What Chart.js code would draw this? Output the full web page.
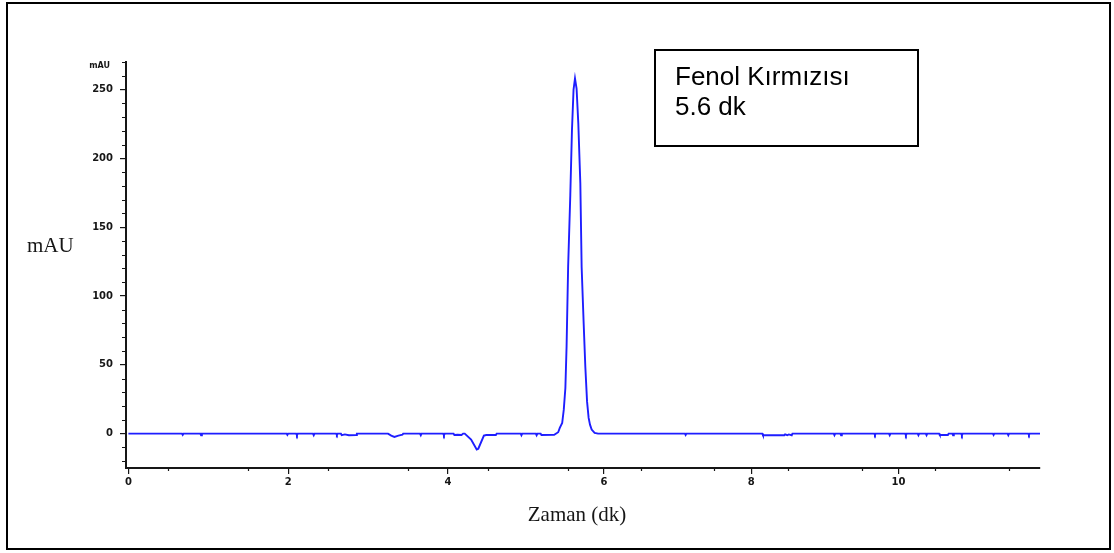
<!DOCTYPE html>
<html lang="tr">
<head>
<meta charset="utf-8">
<title>Fenol Kırmızısı – kromatogram</title>
<script src="https://cdn.jsdelivr.net/npm/chart.js@4.4.1/dist/chart.umd.min.js"></script>
<style>
  html, body { margin: 0; padding: 0; background: #ffffff; }
  canvas { display: block; }
</style>
</head>
<body>
<canvas id="chromatogram" width="1114" height="553"></canvas>
<script>
// Retention time (min) of each recorded point
const TIME_MIN = [
  0,
  0.67, 0.68, 0.69,
  0.90, 0.91, 0.92,
  1.98, 1.99, 2.00,
  2.10, 2.11, 2.12,
  2.31, 2.32, 2.33,
  2.60, 2.61, 2.62,
  2.66, 2.67, 2.71, 2.76, 2.85, 2.86,
  3.25, 3.29, 3.33, 3.38, 3.43, 3.44,
  3.65, 3.66, 3.67,
  3.94, 3.95, 3.96,
  4.07, 4.08, 4.12, 4.17, 4.19,
  4.21, 4.29, 4.36, 4.38, 4.45, 4.48, 4.60, 4.61,
  4.91, 4.92, 4.93,
  5.10, 5.11, 5.12,
  5.16, 5.17, 5.33,
  5.38, 5.40, 5.43, 5.45, 5.47, 5.485, 5.505, 5.535, 5.558, 5.58, 5.60,
  5.622, 5.646, 5.674, 5.692, 5.72, 5.743, 5.767, 5.789, 5.808, 5.831, 5.872, 5.92,
  7.10, 7.11, 7.12,
  8.15, 8.16, 8.45, 8.46, 8.49, 8.51, 8.55, 8.56,
  9.12, 9.13, 9.14,
  9.21, 9.22, 9.23,
  9.67, 9.68, 9.69,
  9.87, 9.88, 9.89,
  10.09, 10.10, 10.11,
  10.26, 10.27, 10.28,
  10.37, 10.38, 10.39,
  10.55, 10.56, 10.67, 10.68,
  10.73, 10.74, 10.75,
  10.85, 10.86, 10.87,
  11.28, 11.29, 11.30,
  11.48, 11.49, 11.50,
  11.76, 11.77, 11.78,
  11.92
];

// Detector signal (mAU) at each time above
const SIGNAL_MAU = [
  0,
  0, -1, 0,
  0, -1.2, 0,
  0, -1, 0,
  0, -1.2, 0,
  0, -1.2, 0,
  0, -1, 0,
  0, -1.2, -0.6, -1.2, -1, 0,
  0, -1.5, -2.4, -1.5, -0.8, 0,
  0, -1.2, 0,
  0, -1.2, 0,
  0, -1, -0.8, -1, 0,
  0, -4.4, -11.6, -11, -1.5, -1, -1, 0,
  0, -1.2, 0,
  0, -1.2, 0,
  0, -1, -0.8,
  1.0, 4.1, 7.7, 17.4, 33.1, 63.3, 121.3, 173.3, 220.4, 250, 258,
  250.7, 225.3, 181.8, 121.3, 80.3, 48.8, 23.4, 11.4, 6.5, 2.9, 0.5, 0,
  0, -1, 0,
  0, -1.2, -1.2, -0.6, -1.2, -0.6, -1.2, 0,
  0, -1.2, 0,
  0, -1.2, 0,
  0, -1, 0,
  0, -1.2, 0,
  0, -1.2, 0,
  0, -1.2, 0,
  0, -1.2, 0,
  0, -1, -1, 0,
  0, -1.2, 0,
  0, -1.2, 0,
  0, -1, 0,
  0, -1.2, 0,
  0, -1, 0,
  0
];

// Labelled tick values
const X_MAJOR_TICKS = [0, 2, 4, 6, 8, 10];
const Y_MAJOR_TICKS = [0, 50, 100, 150, 200, 250];

// Texts
const X_TITLE = 'Zaman (dk)';
const Y_TITLE = 'mAU';
const Y_UNIT = 'mAU';
const PEAK_NAME = 'Fenol Kırmızısı';
const PEAK_TIME = '5.6 dk';

// Piecewise-linear time axis: each time segment gets its own width weight
// (px per minute), so the segment before 5.5 min is a bit wider than the rest.
const SEGMENT_WEIGHTS = [
  { from: -Infinity, to: 5.5, w: 79.7 },
  { from: 5.5, to: 6.0, w: 72.0 },
  { from: 6.0, to: Infinity, w: 73.5 }
];
function warp(t) {
  let acc = 0;
  if (t <= 5.5) return t * SEGMENT_WEIGHTS[0].w;
  acc = 5.5 * SEGMENT_WEIGHTS[0].w;
  if (t <= 6.0) return acc + (t - 5.5) * SEGMENT_WEIGHTS[1].w;
  acc += 0.5 * SEGMENT_WEIGHTS[1].w;
  return acc + (t - 6.0) * SEGMENT_WEIGHTS[2].w;
}
function unwarp(u) {
  const a = 5.5 * SEGMENT_WEIGHTS[0].w;
  const b = a + 0.5 * SEGMENT_WEIGHTS[1].w;
  if (u <= a) return u / SEGMENT_WEIGHTS[0].w;
  if (u <= b) return 5.5 + (u - a) / SEGMENT_WEIGHTS[1].w;
  return 6.0 + (u - b) / SEGMENT_WEIGHTS[2].w;
}

class SegmentedLinearScale extends Chart.LinearScale {
  getPixelForValue(value) {
    if (value === null || value === undefined || isNaN(value)) return NaN;
    const a = warp(this.min), b = warp(this.max);
    return this.getPixelForDecimal((warp(value) - a) / (b - a));
  }
  getValueForPixel(pixel) {
    const a = warp(this.min), b = warp(this.max);
    return unwarp(a + this.getDecimalForPixel(pixel) * (b - a));
  }
}
SegmentedLinearScale.id = 'segmentedLinear';
Chart.register(SegmentedLinearScale);

const INK = '#161616';
const TICK_FONT = { family: 'DejaVu Sans', size: 10, weight: 'bold' };

// Minor ticks, axis titles, unit label, peak note and outer frame
const printoutDecor = {
  id: 'printoutDecor',
  afterDraw(chart) {
    const { ctx, chartArea } = chart;
    const xs = chart.scales.x, ys = chart.scales.y;
    ctx.save();

    // minor ticks
    ctx.strokeStyle = INK;
    ctx.lineWidth = 1.2;
    ctx.beginPath();
    for (let v = -20; v <= 270; v += 10) {
      if (v % 50 === 0) continue;
      const py = Math.round(ys.getPixelForValue(v)) + 0.5;
      ctx.moveTo(chartArea.left - 4, py);
      ctx.lineTo(chartArea.left, py);
    }
    for (let t = 0.5; t < 12; t += 1) {
      const px = Math.round(xs.getPixelForValue(t)) + 0.5;
      ctx.moveTo(px, chartArea.bottom);
      ctx.lineTo(px, chartArea.bottom + 3);
    }
    ctx.stroke();

    // unit at the top of the signal axis
    ctx.fillStyle = INK;
    ctx.font = 'bold 8px "DejaVu Sans"';
    ctx.textAlign = 'right';
    ctx.textBaseline = 'middle';
    ctx.fillText(Y_UNIT, 110, 66);

    // axis titles
    ctx.font = '21px "Liberation Serif"';
    ctx.textBaseline = 'alphabetic';
    ctx.textAlign = 'left';
    ctx.fillText(Y_TITLE, 27, 252);
    ctx.textAlign = 'center';
    ctx.fillText(X_TITLE, 577, 521);

    // peak note
    ctx.strokeStyle = '#000';
    ctx.lineWidth = 2;
    ctx.strokeRect(655, 50, 263, 96);
    ctx.fillStyle = '#000';
    ctx.font = '26px "Liberation Sans"';
    ctx.textAlign = 'left';
    ctx.fillText(PEAK_NAME, 675, 85);
    ctx.fillText(PEAK_TIME, 675, 115);

    // outer frame
    ctx.lineWidth = 2;
    ctx.strokeRect(7, 3, 1103, 546);
    ctx.restore();
  }
};

new Chart(document.getElementById('chromatogram'), {
  type: 'line',
  data: {
    datasets: [{
      data: TIME_MIN.map((t, i) => ({ x: t, y: SIGNAL_MAU[i] })),
      borderColor: '#1e1eff',
      borderWidth: 1.9,
      pointRadius: 0,
      tension: 0,
      fill: false
    }]
  },
  options: {
    responsive: false,
    devicePixelRatio: 1,
    animation: false,
    events: [],
    layout: { padding: { top: 62, right: 74, bottom: 0, left: 0 } },
    plugins: { legend: { display: false }, tooltip: { enabled: false } },
    scales: {
      x: {
        type: 'segmentedLinear',
        min: -0.03,
        max: 11.92,
        afterBuildTicks: s => { s.ticks = X_MAJOR_TICKS.map(v => ({ value: v })); },
        afterFit: s => { s.height = 85; },
        ticks: { font: TICK_FONT, color: INK, padding: 2, maxRotation: 0, autoSkip: false },
        grid: { display: true, drawOnChartArea: false, drawTicks: true, tickLength: 6, color: INK, lineWidth: 1.2 },
        border: { display: true, color: INK, width: 2 }
      },
      y: {
        type: 'linear',
        min: -25,
        max: 270,
        afterBuildTicks: s => { s.ticks = Y_MAJOR_TICKS.map(v => ({ value: v })); },
        afterFit: s => { s.width = 126; },
        ticks: { font: TICK_FONT, color: INK, padding: 7, autoSkip: false },
        grid: { display: true, drawOnChartArea: false, drawTicks: true, tickLength: 6, color: INK, lineWidth: 1.2 },
        border: { display: true, color: INK, width: 2 }
      }
    }
  },
  plugins: [printoutDecor]
});
</script>
</body>
</html>
